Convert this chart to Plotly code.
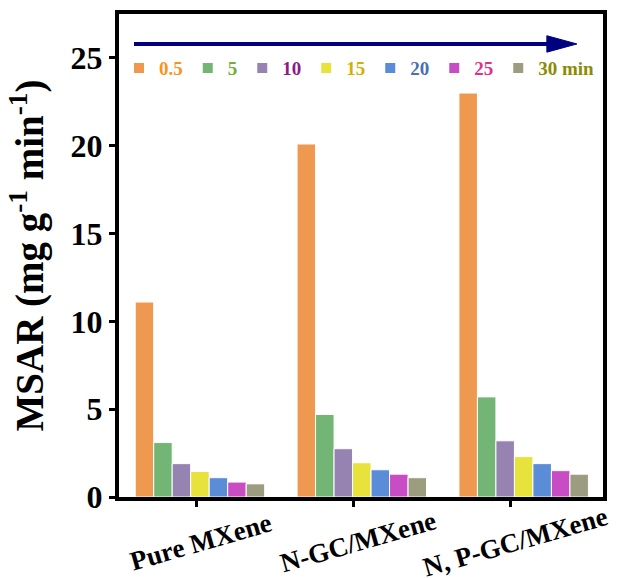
import plotly.graph_objects as go

categories = ["Pure MXene", "N-GC/MXene", "N, P-GC/MXene"]
times = ["0.5", "5", "10", "15", "20", "25", "30 min"]
v_05 = [11.1, 20.1, 23.0]
v_5 = [3.1, 4.7, 5.7]
v_10 = [1.9, 2.75, 3.2]
v_15 = [1.45, 1.95, 2.3]
v_20 = [1.1, 1.55, 1.9]
v_25 = [0.85, 1.3, 1.5]
v_30 = [0.75, 1.1, 1.3]
series = [v_05, v_5, v_10, v_15, v_20, v_25, v_30]

bar_colors = ["#EE994F", "#72B574", "#9683B2", "#E8E23C", "#5A8CD8", "#C84CC4", "#9C9C80"]
text_colors = ["#F7941D", "#6FAF3A", "#8B1A8B", "#D4B000", "#4A6FB5", "#E0308A", "#8B8B00"]

x_pos = [0, 1, 2]
tick_pos = [-0.02, 0.95, 1.92]

fig = go.Figure()
for name, vals, bc, tc in zip(times, series, bar_colors, text_colors):
    fig.add_trace(go.Bar(
        x=x_pos, y=vals,
        name=f"<span style='color:{tc}'>{name}</span>",
        marker=dict(color=bc, line=dict(color="white", width=1)),
    ))

font_family = "Liberation Serif"

fig.update_layout(
    width=638, height=578,
    margin=dict(l=119, r=35, t=14, b=81),
    plot_bgcolor="white", paper_bgcolor="white",
    barmode="group", bargap=0.2, bargroupgap=0,
    font=dict(family=font_family, color="black"),
    showlegend=True,
    legend=dict(
        orientation="h", x=0.0, y=0.888, xanchor="left", yanchor="middle",
        font=dict(size=19, family=font_family, weight="bold"),
        bgcolor="rgba(0,0,0,0)", itemsizing="constant",
        tracegroupgap=0,
    ),
    xaxis=dict(
        range=[-0.5, 2.49],
        tickmode="array", tickvals=tick_pos, ticktext=categories,
        showticklabels=False, automargin=False,
        showline=True, linecolor="black", linewidth=4, mirror=True,
        ticks="outside", ticklen=6, tickwidth=3, tickcolor="black",
        showgrid=False, zeroline=False,
    ),
    yaxis=dict(
        range=[0, 27.5], automargin=False,
        tickvals=[0, 5, 10, 15, 20, 25],
        tickfont=dict(size=32, family=font_family, weight="bold"),
        showline=True, linecolor="black", linewidth=4, mirror=True,
        ticks="outside", ticklen=6, tickwidth=3, tickcolor="black",
        showgrid=False, zeroline=False,
        title=dict(text="MSAR (mg g<sup>-1</sup> min<sup>-1</sup>)",
                   font=dict(size=39, family=font_family, weight="bold"),
                   standoff=16),
    ),
)

for cat, tp in zip(categories, tick_pos):
    fig.add_annotation(
        x=tp, xref="x", y=-0.093, yref="paper", xshift=4,
        text=cat, showarrow=False, textangle=-16,
        xanchor="center", yanchor="middle",
        font=dict(size=27, family=font_family, weight="bold", color="black"),
    )

# time-direction arrow
fig.add_shape(type="line", xref="x domain", yref="y domain",
              x0=0.031, y0=0.938, x1=0.89, y1=0.938,
              line=dict(color="#000080", width=4))
fig.add_shape(type="path", xref="x domain", yref="y domain",
              path="M 0.884 0.955 L 0.946 0.938 L 0.884 0.921 Z",
              fillcolor="#000080", line=dict(color="#000080", width=1))

fig.write_html("out.html")
